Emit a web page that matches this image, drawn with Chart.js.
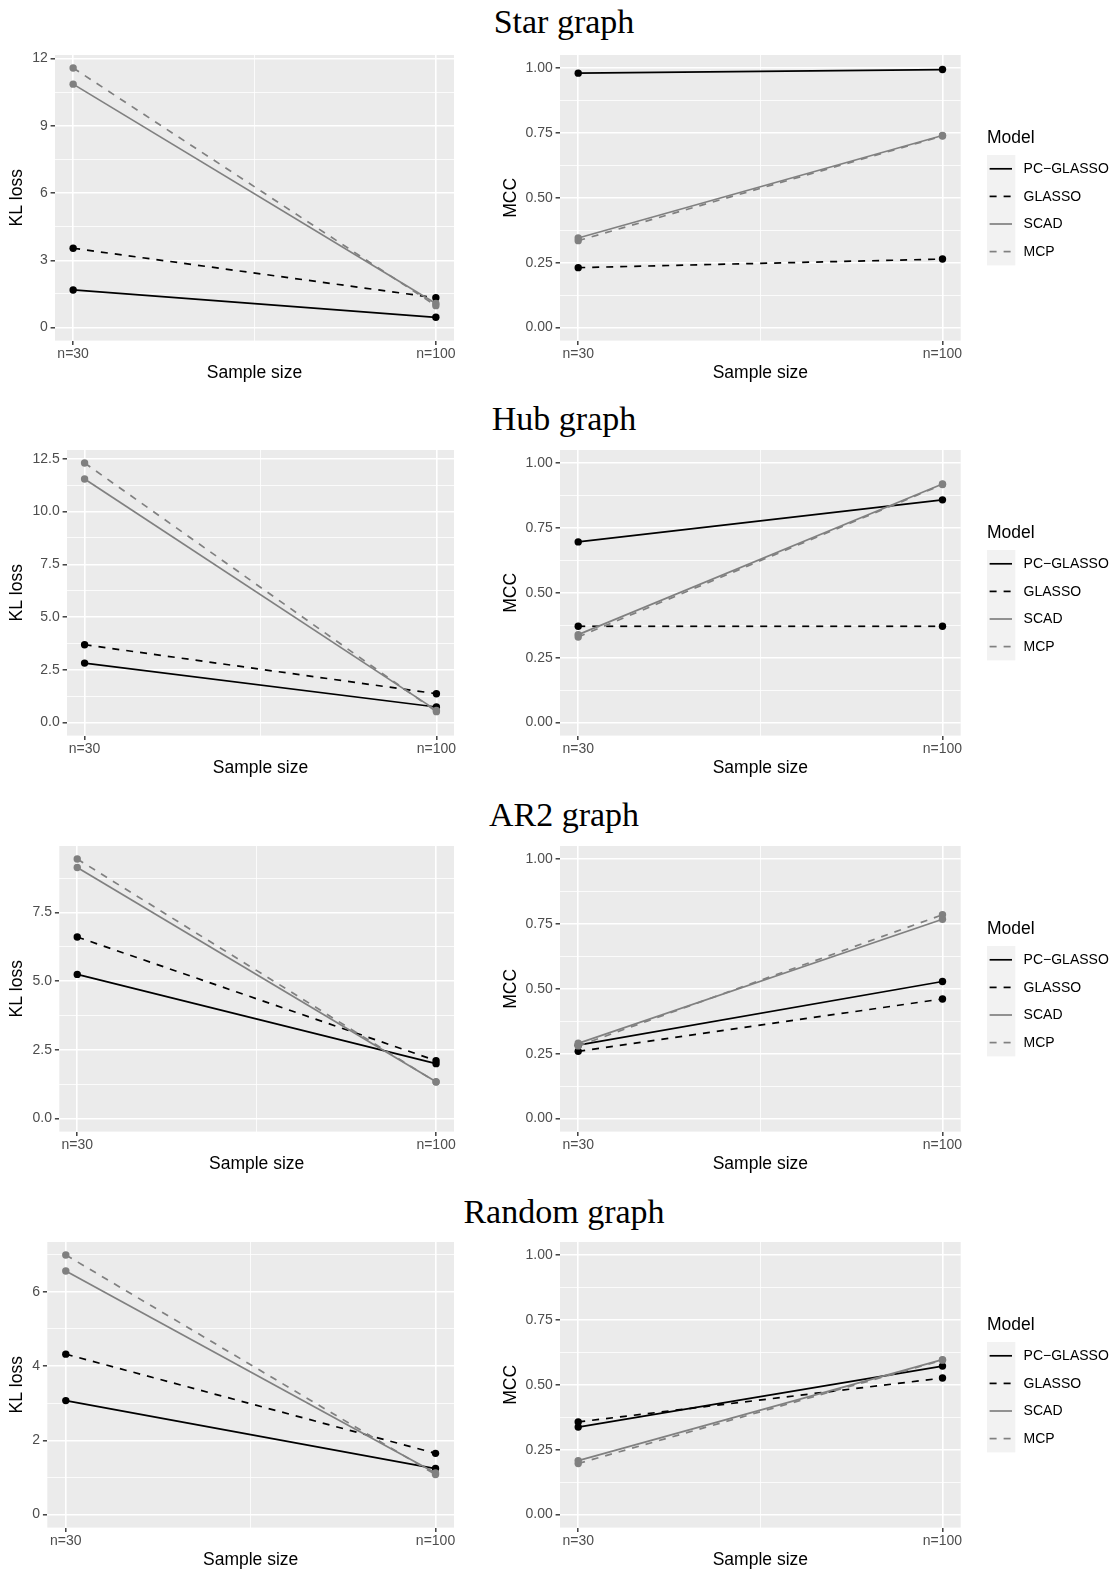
<!DOCTYPE html>
<html>
<head>
<meta charset="utf-8">
<title>KL loss and MCC by sample size</title>
<script src="https://cdn.jsdelivr.net/npm/chart.js"></script>
<style>
  body { margin: 0; background: #fff; }
  #page { position: relative; width: 1116px; height: 1574px; overflow: hidden; background: #fff; }
  .title { position: absolute; left: 0; width: 1128px; text-align: center;
           font: 34px/34px "Liberation Serif", "Times New Roman", serif; color: #000; white-space: nowrap; }
  canvas { position: absolute; }
</style>
</head>
<body>
<div id="page"></div>
<script>
// ---- data ----
const sampleSizes = [30, 100];
const xTickLabels = ['n=30', 'n=100'];
const models = ['PC\u2212GLASSO', 'GLASSO', 'SCAD', 'MCP'];
const graphNames = ['Star graph', 'Hub graph', 'AR2 graph', 'Random graph'];

// one row per model (same order as models), one value per sample size
const starKL = [[1.68, 0.46], [3.54, 1.33], [10.86, 1.08], [11.58, 0.98]];
const hubKL = [[2.82, 0.74], [3.69, 1.37], [11.54, 0.58], [12.30, 0.52]];
const ar2KL = [[5.25, 2.00], [6.61, 2.11], [9.14, 1.34], [9.45, 1.33]];
const randomKL = [[3.07, 1.24], [4.32, 1.65], [6.56, 1.12], [6.99, 1.08]];

const starMCC = [[0.980, 0.994], [0.231, 0.264], [0.345, 0.740], [0.335, 0.738]];
const hubMCC = [[0.696, 0.858], [0.371, 0.371], [0.339, 0.919], [0.330, 0.917]];
const ar2MCC = [[0.283, 0.528], [0.259, 0.461], [0.290, 0.768], [0.280, 0.785]];
const randomMCC = [[0.337, 0.572], [0.357, 0.526], [0.208, 0.597], [0.197, 0.595]];

// tick labels
const starKLTicks = ['0', '3', '6', '9', '12'];
const hubKLTicks = ['0.0', '2.5', '5.0', '7.5', '10.0', '12.5'];
const ar2KLTicks = ['0.0', '2.5', '5.0', '7.5'];
const randomKLTicks = ['0', '2', '4', '6'];
const mccTicks = ['0.00', '0.25', '0.50', '0.75', '1.00'];
const mccLimits = [0, 1];

// ---- styles ----
const SANS = '"Liberation Sans", Arial, Helvetica, sans-serif';
const lineColors = ['#000000', '#000000', '#808080', '#808080'];
const lineDashes = [[], [7, 7], [], [7, 7]];

const rows = [
  { name: graphNames[0], kl: starKL, klTicks: starKLTicks, mcc: starMCC, panelTop: 55, leftAxisW: 55, titleBase: 33.3 },
  { name: graphNames[1], kl: hubKL, klTicks: hubKLTicks, mcc: hubMCC, panelTop: 450, leftAxisW: 67, titleBase: 430 },
  { name: graphNames[2], kl: ar2KL, klTicks: ar2KLTicks, mcc: ar2MCC, panelTop: 846, leftAxisW: 59.3, titleBase: 826 },
  { name: graphNames[3], kl: randomKL, klTicks: randomKLTicks, mcc: randomMCC, panelTop: 1242, leftAxisW: 47.3, titleBase: 1223 }
];

const PAD_TOP = 20;
const X_AXIS_H = 45.4;
const CANVAS_H = 351;

// ggplot-like expansion of a range by 5%
function expand(lo, hi) {
  const d = (hi - lo) * 0.05;
  return [lo - d, hi + d];
}

// major ticks with text plus minor ticks halfway between them
function makeTicks(values, texts, lo, hi) {
  const ticks = values.map((v, i) => ({ value: v, text: texts[i] }));
  const step = values[1] - values[0];
  for (let v = values[0] - step / 2; v <= hi; v += step) {
    if (v >= lo) ticks.push({ value: v, text: '', minor: true });
  }
  return ticks.sort((a, b) => a.value - b.value);
}

const panelBg = {
  id: 'panelBg',
  beforeDraw(chart) {
    const { ctx, chartArea: a } = chart;
    ctx.save();
    ctx.fillStyle = '#EBEBEB';
    ctx.fillRect(a.left, a.top, a.right - a.left, a.bottom - a.top);
    ctx.restore();
  }
};

// legend drawn beside the panel, built from the chart's own datasets
const ggLegend = {
  id: 'ggLegend',
  afterDraw(chart) {
    const { ctx, chartArea: a } = chart;
    const x0 = a.right + 26.3;
    const top = a.top + 100;
    const cell = 27.6;
    const sets = chart.data.datasets;
    ctx.save();
    ctx.textBaseline = 'middle';
    ctx.textAlign = 'left';
    ctx.fillStyle = '#000';
    ctx.font = '17.5px ' + SANS;
    ctx.fillText('Model', x0, a.top + 83);
    ctx.fillStyle = '#F2F2F2';
    ctx.fillRect(x0, top, 28.3, cell * sets.length);
    sets.forEach((ds, i) => {
      const cy = top + cell * (i + 0.5);
      ctx.strokeStyle = ds.borderColor;
      ctx.lineWidth = ds.borderWidth;
      ctx.setLineDash(ds.borderDash);
      ctx.beginPath();
      ctx.moveTo(x0 + 2.6, cy);
      ctx.lineTo(x0 + 25, cy);
      ctx.stroke();
      ctx.setLineDash([]);
      ctx.fillStyle = '#000';
      ctx.font = '14px ' + SANS;
      ctx.fillText(ds.label, x0 + 36.6, cy + 0.5);
    });
    ctx.restore();
  }
};

function buildDatasets(values) {
  return models.map((m, i) => ({
    label: m,
    data: sampleSizes.map((x, j) => ({ x: x, y: values[i][j] })),
    borderColor: lineColors[i],
    backgroundColor: lineColors[i],
    pointBackgroundColor: lineColors[i],
    pointBorderWidth: 0,
    pointRadius: 3.7,
    borderWidth: 1.7,
    borderDash: lineDashes[i],
    order: models.length - i,
    tension: 0
  }));
}

const isMinor = c => c.tick && c.tick.minor;

function gridOpts() {
  return {
    color: '#FFFFFF',
    lineWidth: c => isMinor(c) ? 0.8 : 1.6,
    tickLength: 4.4,
    tickWidth: 1.4,
    tickColor: c => isMinor(c) ? 'rgba(0,0,0,0)' : '#333333'
  };
}

function makeChart(canvas, values, yTickTexts, yRange, yTitle, leftW, yTitlePad, padRight, withLegend) {
  const [xlo, xhi] = expand(sampleSizes[0], sampleSizes[sampleSizes.length - 1]);
  const [ylo, yhi] = expand(yRange[0], yRange[1]);
  const xTicks = makeTicks(sampleSizes, xTickLabels, xlo, xhi);
  const yTicks = makeTicks(yTickTexts.map(Number), yTickTexts, ylo, yhi);

  return new Chart(canvas, {
    type: 'line',
    data: { datasets: buildDatasets(values) },
    plugins: withLegend ? [panelBg, ggLegend] : [panelBg],
    options: {
      responsive: false,
      animation: false,
      events: [],
      layout: { autoPadding: false, padding: { top: PAD_TOP, right: padRight, left: 0, bottom: 0 } },
      plugins: { legend: { display: false }, tooltip: { enabled: false } },
      scales: {
        x: {
          type: 'linear', min: xlo, max: xhi,
          afterFit: s => { s.height = X_AXIS_H; },
          afterBuildTicks: s => { s.ticks = xTicks.map(t => Object.assign({}, t)); },
          ticks: {
            autoSkip: false, maxRotation: 0, padding: 0.3, color: '#4D4D4D',
            font: { size: 14, family: SANS },
            callback: (v, i, ts) => ts[i].text
          },
          grid: gridOpts(),
          border: { display: false },
          title: { display: true, text: 'Sample size', color: '#000', font: { size: 17.5, family: SANS }, padding: { top: 0, bottom: 2.5 } }
        },
        y: {
          type: 'linear', min: ylo, max: yhi,
          afterFit: s => { s.width = leftW; },
          afterBuildTicks: s => { s.ticks = yTicks.map(t => Object.assign({}, t)); },
          ticks: {
            autoSkip: false, padding: 2.9, color: '#4D4D4D',
            font: { size: 14, family: SANS },
            callback: (v, i, ts) => ts[i].text
          },
          grid: gridOpts(),
          border: { display: false },
          title: { display: true, text: yTitle, color: '#000', font: { size: 17.5, family: SANS }, padding: { top: yTitlePad, bottom: 0 } }
        }
      }
    }
  });
}

const page = document.getElementById('page');

rows.forEach(r => {
  const t = document.createElement('div');
  t.className = 'title';
  t.textContent = r.name;
  t.style.top = (r.titleBase - 28.5) + 'px';
  page.appendChild(t);

  const top = r.panelTop - PAD_TOP;

  const left = document.createElement('canvas');
  left.width = 460; left.height = CANVAS_H;
  left.style.left = '0px'; left.style.top = top + 'px';
  page.appendChild(left);

  const right = document.createElement('canvas');
  right.width = 656; right.height = CANVAS_H;
  right.style.left = '460px'; right.style.top = top + 'px';
  page.appendChild(right);

  const klMax = Math.max(0, ...r.kl.flat());
  makeChart(left, r.kl, r.klTicks, [0, klMax], 'KL loss', r.leftAxisW, 7, 6, false);
  makeChart(right, r.mcc, mccTicks, mccLimits, 'MCC', 100, 40.5, 155.3, true);
});
</script>
</body>
</html>
